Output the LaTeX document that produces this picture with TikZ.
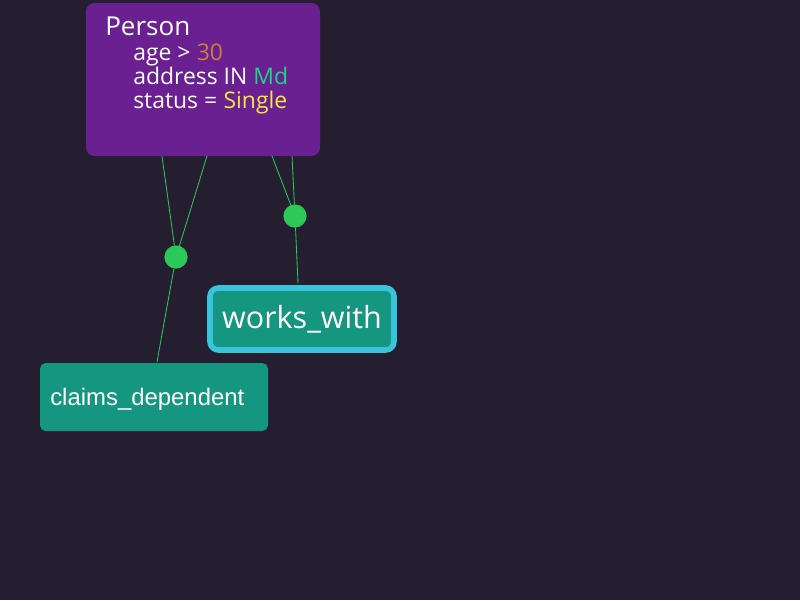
\documentclass[tikz,border=0pt]{standalone}
\usepackage{fontspec}
\setmainfont{Open Sans}
\newfontfamily\helv{Liberation Sans}
\usetikzlibrary{calc}
\definecolor{bgdark}{RGB}{37,29,48}
\definecolor{personpurple}{RGB}{106,32,144}
\definecolor{relteal}{RGB}{20,150,128}
\definecolor{selcyan}{RGB}{58,196,220}
\definecolor{dotgreen}{RGB}{44,200,88}
\definecolor{valorange}{RGB}{200,128,58}
\definecolor{valgreen}{RGB}{30,212,138}
\definecolor{valyellow}{RGB}{245,230,66}
\tikzset{
  edge/.style={draw=dotgreen,line width=0.6pt},
  joint/.style={circle,fill=dotgreen,draw=none,minimum size=16.5pt,inner sep=0pt},
  relbox/.style={rectangle,rounded corners=4pt,fill=relteal,text=white,inner sep=0pt},
  condline/.style={anchor=base west,text=white,font=\fontsize{16.3}{19}\selectfont,inner sep=0pt}
}

\begin{document}
\begin{tikzpicture}[line cap=round,line join=round,x=0.025cm,y=-0.025cm]
  \fill[bgdark] (0,0) rectangle (800,600);
  \useasboundingbox (0,0) rectangle (800,600);
  % person box
  \node[rectangle,rounded corners=6pt,fill=personpurple,minimum width=234*0.025cm,minimum height=153*0.025cm,inner sep=0pt] (person) at (203,79.5) {};
  \node[anchor=base west,text=white,font=\fontsize{18.5}{22}\selectfont,inner sep=0pt] (ptitle) at (105,35) {Person};
  \node[condline] (pline1) at (133,60) {age \textgreater\;\textcolor{valorange}{30}};
  \node[condline] (pline2) at (133,84) {address\ IN \textcolor{valgreen}{Md}};
  \node[condline] (pline3) at (133,108) {status\ =\;\textcolor{valyellow}{Single}};
  % relation boxes
  \node[relbox,draw=selcyan,line width=4pt,rounded corners=6pt,minimum width=184*0.025cm,minimum height=62*0.025cm,font=\fontsize{21.7}{25}\selectfont] (works) at (302,319) {works\_with};
  \node[relbox,minimum width=228*0.025cm,minimum height=68*0.025cm] (claims) at (154,397) {};
  \node[anchor=west,text=white,font=\helv\fontsize{17}{20}\selectfont,inner sep=0pt] (claimstxt) at (50,399) {claims\_dependent};
  % joints
  \node[joint] (j1) at (176,257) {};
  \node[joint] (j2) at (295,216) {};
  \coordinate (p1) at (162,156);
  \coordinate (p2) at (207,156);
  \coordinate (p3) at (272,156);
  \coordinate (p4) at (292,156);
  \coordinate (c1) at (157,362);
  \coordinate (w1) at (298,283);
  \draw[edge] (p1) -- (j1);
  \draw[edge] (p2) -- (j1);
  \draw[edge] (j1) -- (c1);
  \draw[edge] (p3) -- (j2);
  \draw[edge] (p4) -- (j2);
  \draw[edge] (j2) -- (w1);
\end{tikzpicture}
\end{document}
